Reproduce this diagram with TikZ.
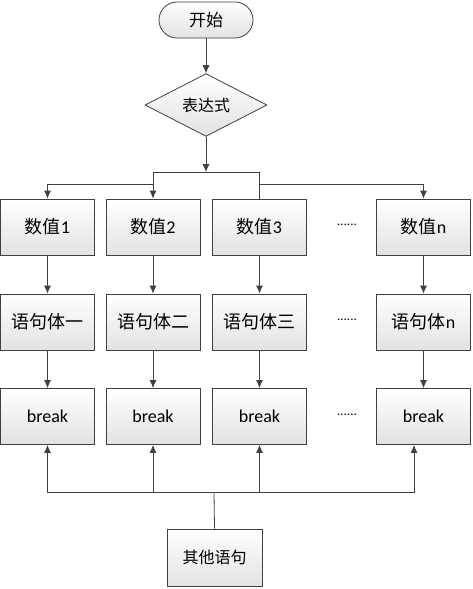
\documentclass[tikz,border=0pt]{standalone}
\usepackage{fontspec}
\setmainfont{Carlito}
\newfontfamily\cjk{Noto Sans CJK SC}
\usetikzlibrary{shapes.geometric,arrows.meta}
\definecolor{lGray}{HTML}{404040}
\definecolor{fGray}{HTML}{E2E2E2}

\begin{document}
\begin{tikzpicture}[x=1pt,y=-1pt,>={Latex[length=8pt,width=7pt]}]
		\tikzstyle{BOX} = [draw=lGray, line width=0.8pt, top color=white, bottom color=fGray, inner sep=0pt]
		\tikzstyle{stepbox} = [BOX, minimum width=94pt, minimum height=56pt, font=\fontsize{18}{20}\selectfont]
		\tikzstyle{startbox} = [BOX, rounded corners=18pt, minimum width=94pt, minimum height=36pt, font=\fontsize{17}{20}\selectfont]
		\tikzstyle{cond} = [BOX, diamond, minimum width=122pt, minimum height=56pt, font=\fontsize{16}{20}\selectfont]
		\tikzstyle{otherbox} = [BOX, minimum width=95pt, minimum height=57pt, font=\fontsize{16}{20}\selectfont]
		\tikzstyle{dotsnode} = [font=\fontsize{13}{14}\selectfont]
		\tikzstyle{link} = [draw=lGray, line width=0.8pt]

		\useasboundingbox (0,0) rectangle (473,589);

		\node[startbox] (begin) at 	(206, 20) {\cjk 开始};
		\node[cond] (expr) at 		(206, 105) {\cjk 表达式};
		\draw[->, link] (begin.south) -- (expr.north);

		% values
		\node[stepbox] (vOne) at 	(47.5, 227) {{\cjk 数值}1};
		\node[stepbox] (vTwo) at 	(153, 227) {{\cjk 数值}2};
		\node[stepbox] (vThree) at 	(259.5, 227) {{\cjk 数值}3};
		\node[dotsnode] (dOne) at 	(347, 225) {......};
		\node[stepbox] (vN) at 		(423.5, 227) {{\cjk 数值}n};

		% statements
		\node[stepbox] (sOne) at 	(47.5, 322) {\cjk 语句体一};
		\node[stepbox] (sTwo) at 	(153, 322) {\cjk 语句体二};
		\node[stepbox] (sThree) at 	(259.5, 322) {\cjk 语句体三};
		\node[dotsnode] (dTwo) at 	(347, 320) {......};
		\node[stepbox] (sN) at 		(423.5, 322) {{\cjk 语句体}n};

		% break
		\node[stepbox] (bOne) at 	(47.5, 416.5) {break};
		\node[stepbox] (bTwo) at 	(153, 416.5) {break};
		\node[stepbox] (bThree) at 	(259.5, 416.5) {break};
		\node[dotsnode] (dThree) at (347, 414.5) {......};
		\node[stepbox] (bN) at 		(423.5, 416.5) {break};

		\node[otherbox] (rest) at 	(214.5, 557.5) {\cjk 其他语句};

		\coordinate (split) at 		(206, 172);
		\coordinate (fork) at 		(206, 184);
		\coordinate (join) at 		(214, 492);

		\draw[->, link] (expr.south) -- (split);
		\draw[link] (vTwo.north |- split) -- (vThree.north |- split);
		\draw[->, link] (vTwo.north |- split) -- (vTwo.north);
		\draw[link] (vThree.north |- split) -- (vThree.north);
		\draw[->, link] (vTwo.north |- fork) -| (vOne.north);
		\draw[->, link] (vThree.north |- fork) -| (vN.north);

		\draw[->, link] (vOne.south) -- (sOne.north);
		\draw[->, link] (vTwo.south) -- (sTwo.north);
		\draw[->, link] (vThree.south) -- (sThree.north);
		\draw[->, link] (vN.south) -- (sN.north);

		\draw[->, link] (sOne.south) -- (bOne.north);
		\draw[->, link] (sTwo.south) -- (bTwo.north);
		\draw[->, link] (sThree.south) -- (bThree.north);
		\draw[->, link] (sN.south) -- (bN.north);

		\draw[link] (rest.north) -- (join);
		\draw[->, link] (join) -| (bOne.south);
		\draw[->, link] (join) -| (bTwo.south);
		\draw[->, link] (join) -| (bThree.south);
		\draw[->, link] (join) -| ([xshift=-9.5pt]bN.south);
\end{tikzpicture}
\end{document}
